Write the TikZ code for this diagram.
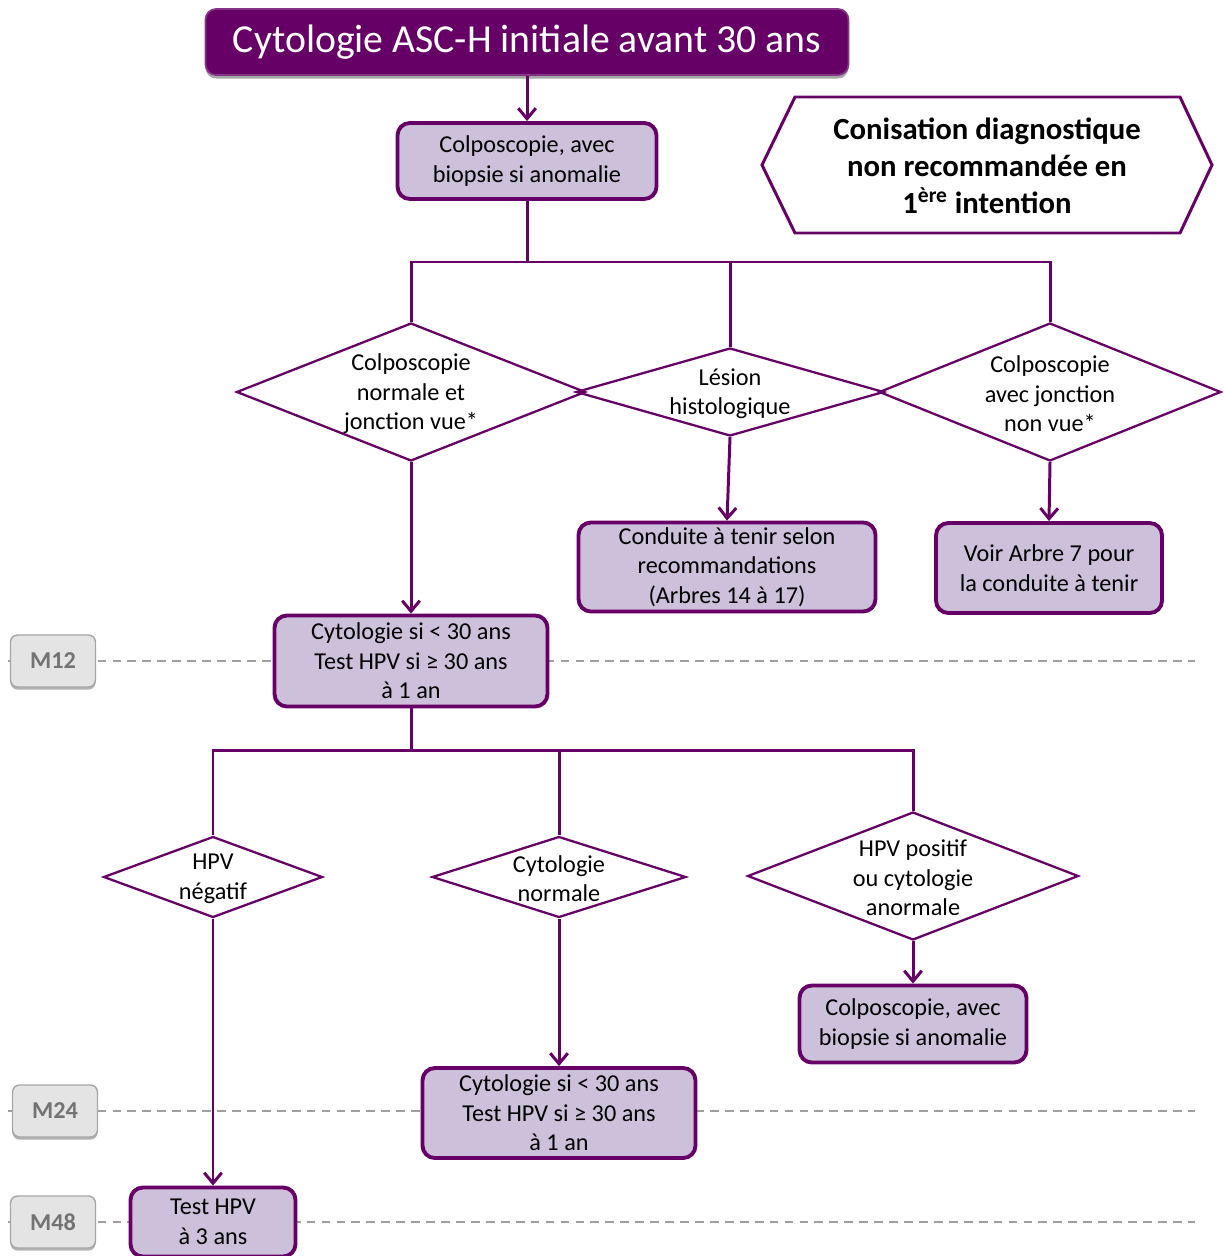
\documentclass[tikz,border=0pt]{standalone}
\usepackage{fontspec}
\setmainfont{Carlito}
\usepackage{xcolor}
\usetikzlibrary{arrows.meta,positioning,shapes.geometric,shadows}

\definecolor{prune}{HTML}{660066}
\definecolor{lilas}{HTML}{CCC0DA}
\definecolor{grisfond}{HTML}{E4E4E4}
\definecolor{grisbord}{HTML}{A6A6A6}
\definecolor{gristexte}{HTML}{737373}
\newcommand{\flowfont}{\fontsize{13.8}{16.8}\selectfont}

\begin{document}
\begin{tikzpicture}[x=0.02cm, y=-0.02cm,
    box/.style={rectangle, rounded corners=7pt, draw=prune, line width=2.2pt, fill=lilas, align=center, font=\flowfont, inner sep=0pt},
    choice/.style={diamond, draw=prune, line width=1.3pt, inner sep=0pt, label={[align=center, font=\flowfont, yshift=-1pt]center:#1}},
    month/.style={rectangle, rounded corners=4pt, draw=grisbord, line width=0.8pt, fill=grisfond, text=gristexte, font=\flowfont\bfseries, minimum width=1.7cm, minimum height=1.04cm, drop shadow={shadow xshift=0pt, shadow yshift=-1.5pt, fill=black!30, opacity=1}},
    arrow/.style={-{Straight Barb[length=6pt,width=10pt]}, line width=1.7pt, draw=prune},
    link/.style={line width=1.7pt, draw=prune},
    guide/.style={draw=gray!75, line width=1.1pt, dash pattern=on 5pt off 3.5pt}
]
    \useasboundingbox (0,0) rectangle (1223,1256);

    % Time guides
    \draw[guide] (8,661) -- (1195,661);
    \draw[guide] (8,1111) -- (1195,1111);
    \draw[guide] (8,1222) -- (1195,1222);

    % Start
    \node[rectangle, rounded corners=6pt, draw=prune!80, line width=1pt, fill=prune, text=white, font=\fontsize{22.6}{26}\selectfont, minimum width=12.86cm, minimum height=1.32cm, drop shadow={shadow xshift=0pt, shadow yshift=-2pt, fill=black!35, opacity=1}] (start) at (527,42) {Cytologie ASC-H initiale avant 30 ans};

    % First colposcopy
    \node[box, minimum width=5.18cm, minimum height=1.52cm] (colpoA) at (527,161) {Colposcopie, avec\\biopsie si anomalie};

    % Warning
    \draw[prune, line width=1.7pt] (762,165) -- (795,97) -- (1180,97) -- (1212,165) -- (1180,233) -- (795,233) -- cycle;
    \node[align=center, font=\fontsize{17.5}{21}\selectfont\bfseries] (conis) at (987,166) {Conisation diagnostique\\non recommandée en\\1\textsuperscript{ère} intention};

    % Colposcopy results
    \node[choice={Colposcopie\\normale et\\jonction vue*}, minimum width=6.98cm, minimum height=2.76cm] (diaJV) at (411,392) {};
    \node[choice={Lésion\\histologique}, minimum width=6.16cm, minimum height=1.76cm] (diaLes) at (730,392) {};
    \node[choice={Colposcopie\\avec jonction\\non vue*}, minimum width=6.84cm, minimum height=2.76cm] (diaJNV) at (1050,392) {};

    % Outcomes
    \node[box, minimum width=5.94cm, minimum height=1.78cm] (conduite) at (727,567) {Conduite à tenir selon\\recommandations\\(Arbres 14 à 17)};
    \node[box, minimum width=4.52cm, minimum height=1.8cm] (voir) at (1049,568) {Voir Arbre 7 pour\\la conduite à tenir};

    % Control at 1 year
    \node[box, minimum width=5.46cm, minimum height=1.82cm] (cyto12) at (411,661) {Cytologie si < 30 ans\\Test HPV si ≥ 30 ans\\à 1 an};

    % Control results
    \node[choice={HPV\\négatif}, minimum width=4.38cm, minimum height=1.62cm] (hpvneg) at (213,877) {};
    \node[choice={Cytologie\\normale}, minimum width=5.08cm, minimum height=1.62cm] (cytonorm) at (559,877) {};
    \node[choice={HPV positif\\ou cytologie\\anormale}, minimum width=6.62cm, minimum height=2.56cm] (hpvpos) at (913,876) {};

    % Follow-up
    \node[box, minimum width=4.54cm, minimum height=1.54cm] (colpoB) at (913,1024) {Colposcopie, avec\\biopsie si anomalie};
    \node[box, minimum width=5.46cm, minimum height=1.8cm] (cyto24) at (559,1113) {Cytologie si < 30 ans\\Test HPV si ≥ 30 ans\\à 1 an};
    \node[box, minimum width=3.3cm, minimum height=1.38cm] (hpv3) at (213,1222) {Test HPV\\à 3 ans};

    % Months
    \node[month] (m12) at (53,661) {M12};
    \node[month] (m24) at (55,1111) {M24};
    \node[month] (m48) at (53,1222) {M48};

    % Arrows
    \coordinate (fork1) at (527,262);
    \coordinate (fork2) at (411,750);
    \draw[arrow] (start) -- (colpoA);
    \draw[link] (colpoA.south) -- (fork1);
    \draw[link] (fork1) -| (diaJV.north);
    \draw[link] (fork1) -| (diaLes.north);
    \draw[link] (fork1) -| (diaJNV.north);
    \draw[arrow] (diaJV.south) -- (cyto12.north);
    \draw[arrow] (diaLes.south) -- (conduite.north);
    \draw[arrow] (diaJNV.south) -- (voir.north);
    \draw[link] (cyto12.south) -- (fork2);
    \draw[link] (fork2) -| (hpvneg.north);
    \draw[link] (fork2) -| (cytonorm.north);
    \draw[link] (fork2) -| (hpvpos.north);
    \draw[arrow] (hpvneg.south) -- (hpv3.north);
    \draw[arrow] (cytonorm.south) -- (cyto24.north);
    \draw[arrow] (hpvpos.south) -- (colpoB.north);

\end{tikzpicture}
\end{document}
